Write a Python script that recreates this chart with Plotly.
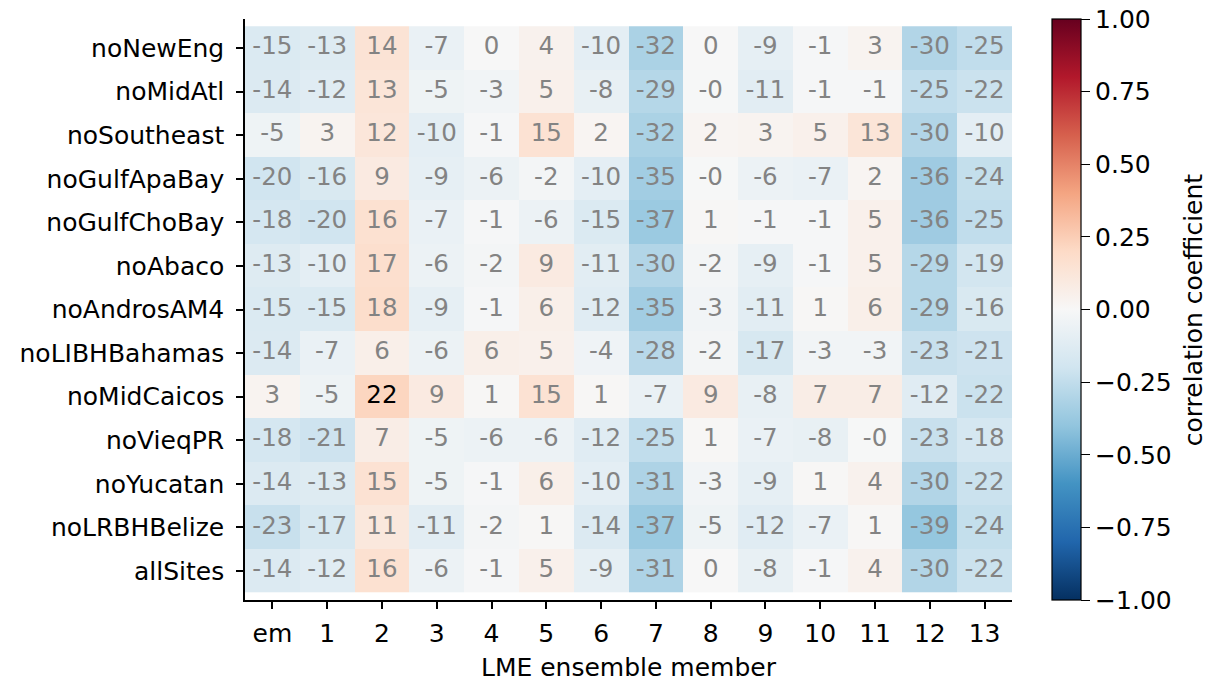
import plotly.graph_objects as go
import plotly.colors as pc

rows = ["noNewEng", "noMidAtl", "noSoutheast", "noGulfApaBay", "noGulfChoBay", "noAbaco",
        "noAndrosAM4", "noLIBHBahamas", "noMidCaicos", "noVieqPR", "noYucatan",
        "noLRBHBelize", "allSites"]
cols = ["em", "1", "2", "3", "4", "5", "6", "7", "8", "9", "10", "11", "12", "13"]

# correlation values x100 (as displayed)
v_noNewEng      = [-15, -13, 14, -7, 0, 4, -10, -32, 0, -9, -1, 3, -30, -25]
v_noMidAtl      = [-14, -12, 13, -5, -3, 5, -8, -29, -0.4, -11, -1, -1, -25, -22]
v_noSoutheast   = [-5, 3, 12, -10, -1, 15, 2, -32, 2, 3, 5, 13, -30, -10]
v_noGulfApaBay  = [-20, -16, 9, -9, -6, -2, -10, -35, -0.4, -6, -7, 2, -36, -24]
v_noGulfChoBay  = [-18, -20, 16, -7, -1, -6, -15, -37, 1, -1, -1, 5, -36, -25]
v_noAbaco       = [-13, -10, 17, -6, -2, 9, -11, -30, -2, -9, -1, 5, -29, -19]
v_noAndrosAM4   = [-15, -15, 18, -9, -1, 6, -12, -35, -3, -11, 1, 6, -29, -16]
v_noLIBHBahamas = [-14, -7, 6, -6, 6, 5, -4, -28, -2, -17, -3, -3, -23, -21]
v_noMidCaicos   = [3, -5, 22, 9, 1, 15, 1, -7, 9, -8, 7, 7, -12, -22]
v_noVieqPR      = [-18, -21, 7, -5, -6, -6, -12, -25, 1, -7, -8, -0.4, -23, -18]
v_noYucatan     = [-14, -13, 15, -5, -1, 6, -10, -31, -3, -9, 1, 4, -30, -22]
v_noLRBHBelize  = [-23, -17, 11, -11, -2, 1, -14, -37, -5, -12, -7, 1, -39, -24]
v_allSites      = [-14, -12, 16, -6, -1, 5, -9, -31, 0, -8, -1, 4, -30, -22]

values = [v_noNewEng, v_noMidAtl, v_noSoutheast, v_noGulfApaBay, v_noGulfChoBay, v_noAbaco,
          v_noAndrosAM4, v_noLIBHBahamas, v_noMidCaicos, v_noVieqPR, v_noYucatan,
          v_noLRBHBelize, v_allSites]

# cells whose label is drawn in black (row, column)
highlight = [("noMidCaicos", "2")]

cbar_ticks = [-1.0, -0.75, -0.5, -0.25, 0.0, 0.25, 0.5, 0.75, 1.0]
cbar_title = "correlation coefficient"

z = [[v / 100.0 for v in r] for r in values]

def fmt(v):
    r = round(v)
    if r == 0 and v < 0:
        return "-0"
    return str(int(r))

rdbu = pc.diverging.RdBu[::-1]
n = len(rdbu)
cscale = [[i / (n - 1), c] for i, c in enumerate(rdbu)]

FONT = "DejaVu Sans"
FS = 25

ticktxt = [("\u2212" if t < 0 else "") + f"{abs(t):.2f}" for t in cbar_ticks]

fig = go.Figure()
fig.add_trace(go.Heatmap(
    z=z, x=cols, y=rows, zmin=-1, zmax=1, colorscale=cscale,
    hoverinfo="skip",
    colorbar=dict(
        x=1.0522, xanchor="left", xref="paper", xpad=0,
        y=0, yanchor="bottom", len=1, lenmode="fraction", ypad=0,
        thickness=29, thicknessmode="pixels",
        outlinewidth=1.2, outlinecolor="black",
        ticks="outside", ticklen=9, tickwidth=1.3, tickcolor="black",
        tickmode="array", tickvals=cbar_ticks, ticktext=ticktxt,
        ticklabeloverflow="allow",
        tickfont=dict(family=FONT, size=FS, color="black"),
    ),
))

tx, ty, tt, tc = [], [], [], []
for rname, rv in zip(rows, values):
    for cname, v in zip(cols, rv):
        tx.append(cname)
        ty.append(rname)
        tt.append(fmt(v))
        tc.append("black" if (rname, cname) in highlight else "#838383")

fig.add_trace(go.Scatter(
    x=tx, y=ty, mode="text", text=tt,
    textfont=dict(family=FONT, size=24.5, color=tc),
    hoverinfo="skip", showlegend=False,
))

fig.add_annotation(
    text=cbar_title, textangle=-90, showarrow=False,
    xref="paper", yref="paper", x=1.237, y=0.5,
    xanchor="center", yanchor="middle",
    font=dict(family=FONT, size=FS, color="black"),
)

fig.update_layout(
    width=1225, height=684,
    margin=dict(l=237, r=221, t=11, b=92),
    paper_bgcolor="white", plot_bgcolor="white",
    font=dict(family=FONT, size=FS, color="black"),
    showlegend=False,
)
fig.update_xaxes(
    type="category", range=[-0.5, 13.5],
    showline=True, linecolor="black", linewidth=1.5, mirror=False,
    ticks="outside", ticklen=7, tickwidth=1.5, tickcolor="black",
    ticklabelstandoff=3,
    showgrid=False, zeroline=False,
    tickfont=dict(family=FONT, size=FS, color="black"),
    title=dict(text="LME ensemble member", font=dict(family=FONT, size=FS, color="black"), standoff=12),
)
fig.update_yaxes(
    type="category", autorange="reversed",
    showline=True, linecolor="black", linewidth=1.5, mirror=False,
    ticks="outside", ticklen=7, tickwidth=1.5, tickcolor="black",
    ticklabelstandoff=7,
    showgrid=False, zeroline=False,
    tickfont=dict(family=FONT, size=FS, color="black"),
)

fig.write_html("out.html")
